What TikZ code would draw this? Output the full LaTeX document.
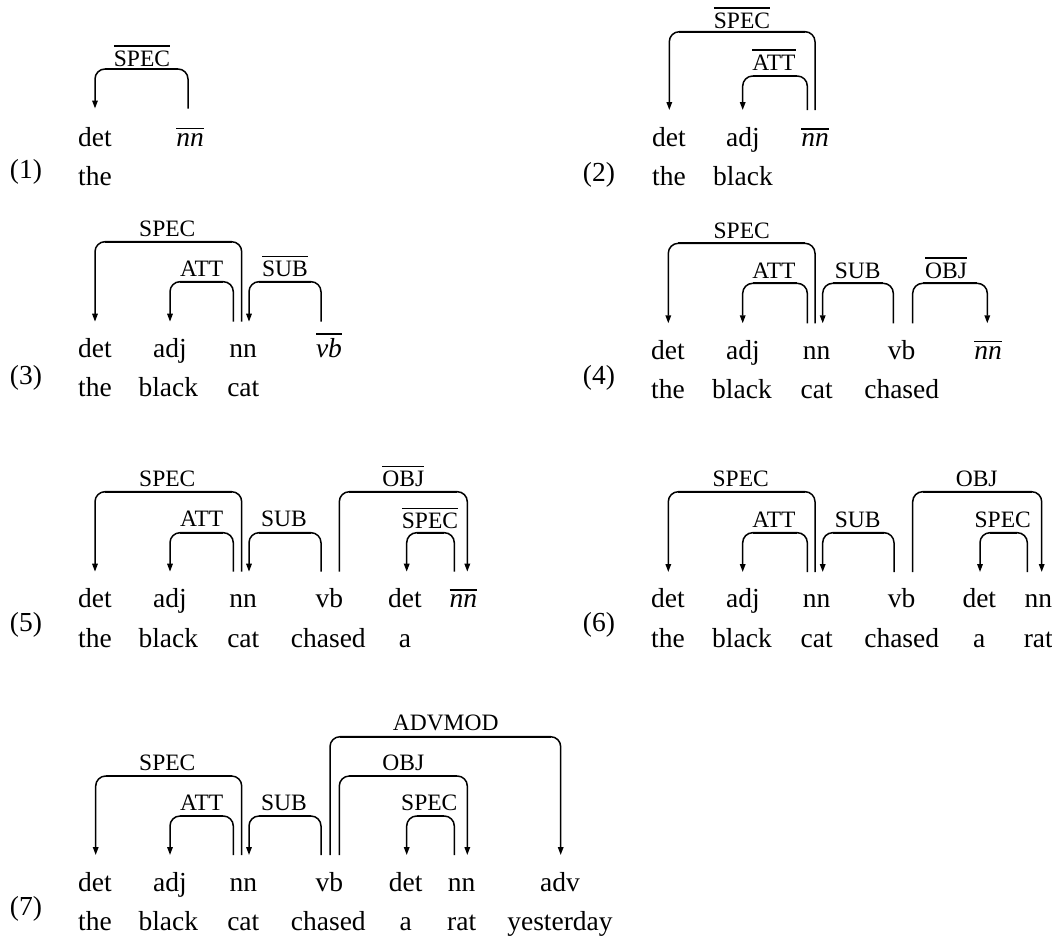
\documentclass[tikz,border=0pt]{standalone}
\usepackage{fontspec}
\setmainfont{Liberation Serif}
\usetikzlibrary{arrows.meta}
\newcommand\ovl[1]{\vbox{\hrule height 1.5pt\kern 3.8pt\hbox{#1}}}
\tikzset{
  wordtxt/.style={anchor=base, inner sep=0pt, font=\fontsize{27.5}{30}\selectfont},
  labtxt/.style={anchor=base, inner sep=0pt, font=\fontsize{23.5}{26}\selectfont},
  deparc/.style={line width=1.5pt, rounded corners=10pt, -{Triangle[length=8pt,width=5.5pt]}},
  arcbar/.style={line width=2.3pt}
}
% name, head x, dependent x, top y, tip y
\newcommand\darc[5]{%
  \coordinate (#1h) at (#2,#5);
  \coordinate (#1d) at (#3,#5);
  \draw[deparc] (#1h) -- (#2,#4) -- (#3,#4) -- (#1d);
  \pgfmathsetmacro\xa{min(#2,#3)+10}%
  \pgfmathsetmacro\xb{max(#2,#3)-10}%
  \draw[arcbar] (\xa,#4) -- (\xb,#4);
}
\newcommand\w[4]{\node[wordtxt] (#1) at (#2,#3) {#4};}
\newcommand\lb[4]{\node[labtxt] (#1) at (#2,#3) {#4};}
\begin{document}
\begin{tikzpicture}[x=1pt,y=-1pt]
\useasboundingbox (0,0) rectangle (1052,935);
% ---------- (1)
\darc{a1}{188}{95}{69}{108.5}
\lb{l1}{142}{66}{\ovl{SPEC}}
\w{p1a}{95}{146}{det}
\w{p1b}{190}{146}{\ovl{\itshape nn}}
\w{w1a}{95}{185}{the}
\w{n1}{26}{178}{(1)}
% ---------- (2)
\darc{a2s}{815}{669.3}{31.7}{110}
\darc{a2a}{807.3}{742.7}{76}{110}
\lb{l2s}{742}{28}{\ovl{SPEC}}
\lb{l2a}{774}{70}{\ovl{ATT}}
\w{p2a}{669}{146.7}{det}
\w{p2b}{743}{146.7}{adj}
\w{p2c}{815}{146.7}{\ovl{\itshape nn}}
\w{w2a}{669}{185}{the}
\w{w2b}{743}{185}{black}
\w{n2}{599}{181}{(2)}
% ---------- (3)
\darc{a3s}{241.7}{95}{241.7}{321.7}
\darc{a3a}{233.3}{170}{281.7}{321.7}
\darc{a3b}{321}{249}{281.7}{321.7}
\lb{l3s}{167.3}{236.7}{SPEC}
\lb{l3a}{201.7}{276.7}{ATT}
\lb{l3b}{285}{276.7}{\ovl{SUB}}
\w{p3a}{95}{357.7}{det}
\w{p3b}{170}{357.7}{adj}
\w{p3c}{243}{357.7}{nn}
\w{p3d}{329}{357.7}{\ovl{\itshape vb}}
\w{w3a}{95}{396.7}{the}
\w{w3b}{168.3}{396.7}{black}
\w{w3c}{243.3}{396.7}{cat}
\w{n3}{26}{384}{(3)}
% ---------- (4)
\darc{a4s}{815}{668.3}{243.3}{323.3}
\darc{a4a}{807.3}{742.7}{283.3}{323.3}
\darc{a4b}{893.3}{822.7}{283.3}{323.3}
\darc{a4o}{912.7}{987.3}{283.3}{323.3}
\lb{l4s}{741.7}{238.3}{SPEC}
\lb{l4a}{774}{278.3}{ATT}
\lb{l4b}{857.7}{278.3}{SUB}
\lb{l4o}{946}{278.3}{\ovl{OBJ}}
\w{p4a}{668}{359}{det}
\w{p4b}{743}{359}{adj}
\w{p4c}{816.7}{359}{nn}
\w{p4d}{901.7}{359}{vb}
\w{p4e}{988}{359}{\ovl{\itshape nn}}
\w{w4a}{668}{398}{the}
\w{w4b}{742}{398}{black}
\w{w4c}{816.7}{398}{cat}
\w{w4d}{901.7}{398}{chased}
\w{n4}{599}{384.5}{(4)}
% ---------- (5)
\darc{a5s}{241.7}{95}{491.7}{571.7}
\darc{a5a}{233.3}{170}{532.7}{571.7}
\darc{a5b}{321}{249}{532.7}{571.7}
\darc{a5o}{339.3}{467.3}{491.7}{571.7}
\darc{a5t}{454.3}{406.7}{532.7}{571.7}
\lb{l5s}{167.3}{486.7}{SPEC}
\lb{l5a}{201.7}{526.7}{ATT}
\lb{l5b}{284}{526.7}{SUB}
\lb{l5o}{403.3}{486.7}{\ovl{OBJ}}
\lb{l5t}{430}{528.5}{\ovl{SPEC}}
\w{p5a}{95}{607.3}{det}
\w{p5b}{170}{607.3}{adj}
\w{p5c}{243}{607.3}{nn}
\w{p5d}{329.3}{607.3}{vb}
\w{p5e}{405}{607.3}{det}
\w{p5f}{463.3}{607.3}{\ovl{\itshape nn}}
\w{w5a}{95}{647.3}{the}
\w{w5b}{168.3}{647.3}{black}
\w{w5c}{243.3}{647.3}{cat}
\w{w5d}{328.3}{647.3}{chased}
\w{w5e}{405}{647.3}{a}
\w{n5}{26}{631}{(5)}
% ---------- (6)
\darc{a6s}{815}{668.3}{491.7}{572}
\darc{a6a}{807.3}{742.7}{532.7}{572}
\darc{a6b}{894}{822.7}{532.7}{572}
\darc{a6o}{912.7}{1041.7}{491.7}{572}
\darc{a6t}{1027.3}{980}{532.7}{572}
\lb{l6s}{740.7}{486.7}{SPEC}
\lb{l6a}{774}{527.3}{ATT}
\lb{l6b}{857.7}{527.3}{SUB}
\lb{l6o}{976.7}{486.7}{OBJ}
\lb{l6t}{1002.7}{527.3}{SPEC}
\w{p6a}{668}{607.5}{det}
\w{p6b}{743}{607.5}{adj}
\w{p6c}{816.7}{607.5}{nn}
\w{p6d}{901.7}{607.5}{vb}
\w{p6e}{979.3}{607.5}{det}
\w{p6f}{1038.3}{607.5}{nn}
\w{w6a}{668}{647.5}{the}
\w{w6b}{742}{647.5}{black}
\w{w6c}{816.7}{647.5}{cat}
\w{w6d}{901.7}{647.5}{chased}
\w{w6e}{979.3}{647.5}{a}
\w{w6f}{1038.3}{647.5}{rat}
\w{n6}{599}{631}{(6)}
% ---------- (7)
\darc{a7s}{241.7}{95.7}{776}{855}
\darc{a7a}{233.3}{170}{816}{855}
\darc{a7b}{321}{249}{816}{855}
\darc{a7m}{330}{560.7}{736.7}{855}
\darc{a7o}{339.3}{467.3}{776}{855}
\darc{a7t}{454.3}{406.7}{816}{855}
\lb{l7s}{167.3}{770.7}{SPEC}
\lb{l7a}{201.7}{810.7}{ATT}
\lb{l7b}{284}{810.7}{SUB}
\lb{l7m}{445.7}{730.7}{ADVMOD}
\lb{l7o}{403.3}{770.7}{OBJ}
\lb{l7t}{429.3}{810.7}{SPEC}
\w{p7a}{95}{891.7}{det}
\w{p7b}{170}{891.7}{adj}
\w{p7c}{243.3}{891.7}{nn}
\w{p7d}{329.3}{891.7}{vb}
\w{p7e}{405.7}{891.7}{det}
\w{p7f}{461.7}{891.7}{nn}
\w{p7g}{560}{891.7}{adv}
\w{w7a}{95}{930.5}{the}
\w{w7b}{168.3}{930.5}{black}
\w{w7c}{243.3}{930.5}{cat}
\w{w7d}{328.3}{930.5}{chased}
\w{w7e}{405.7}{930.5}{a}
\w{w7f}{461.7}{930.5}{rat}
\w{w7g}{560}{930.5}{yesterday}
\w{n7}{26}{915}{(7)}
\end{tikzpicture}
\end{document}
